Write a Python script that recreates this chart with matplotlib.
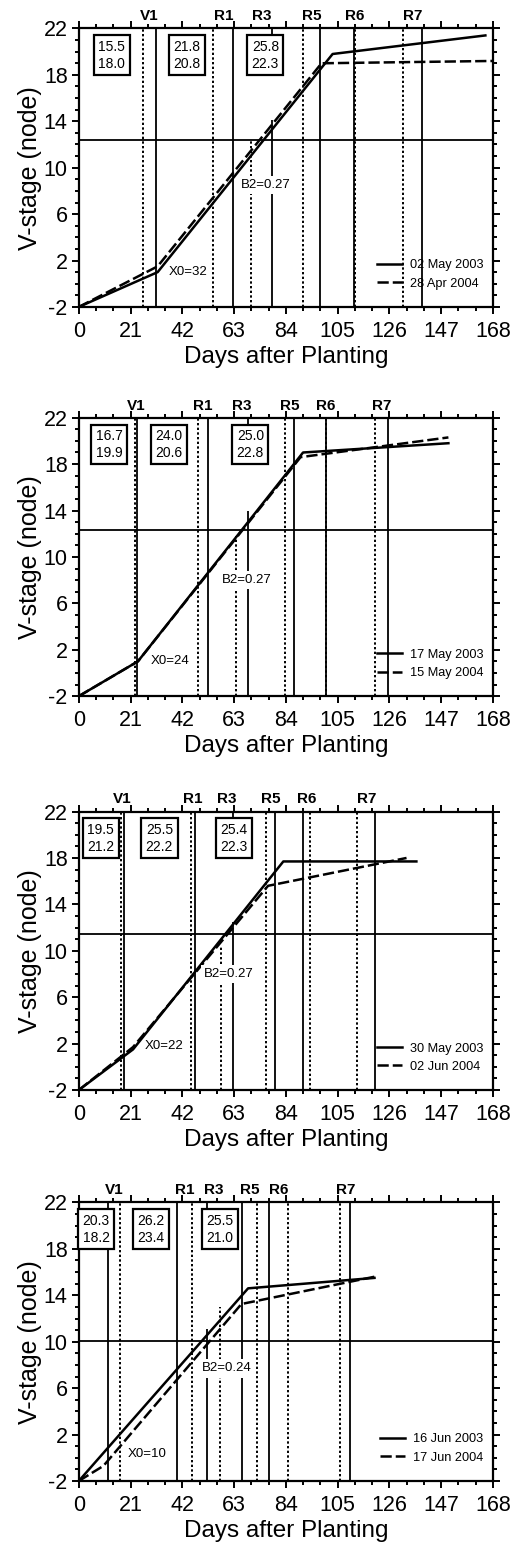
import numpy as np
import matplotlib.pyplot as plt

plt.rcParams['font.family'] = ['Liberation Sans', 'DejaVu Sans']
plt.rcParams['axes.unicode_minus'] = False

stages = ['V1', 'R1', 'R3', 'R5', 'R6', 'R7']

# panel 1
p1_solid_x = [0, 32, 103, 165]
p1_solid_y = [-2, 1.0, 19.8, 21.4]
p1_dash_x = [0, 32, 98.5, 168]
p1_dash_y = [-2, 1.5, 19.0, 19.2]
p1_stage_2003 = [31.3, 62.7, 78.6, 98.0, 111.5, 139.4]
p1_stage_2004 = [26.0, 54.6, 69.7, 91.0, 112.1, 131.5]
p1_r3_top = [14.1, 12.5]
p1_hline = 12.4
p1_temps = ['15.5\n18.0', '21.8\n20.8', '25.8\n22.3']
p1_x0 = 'X0=32'
p1_b2 = 'B2=0.27'
p1_dates = ['02 May 2003', '28 Apr 2004']

# panel 2
p2_solid_x = [0, 24, 91, 150]
p2_solid_y = [-2, 1.0, 19.0, 19.8]
p2_dash_x = [0, 24, 90, 150]
p2_dash_y = [-2, 1.0, 18.6, 20.3]
p2_stage_2003 = [23.8, 52.5, 68.5, 87.4, 100.5, 125.5]
p2_stage_2004 = [22.6, 48.2, 63.7, 83.6, 100.2, 120.1]
p2_r3_top = [14.0, 11.8]
p2_hline = 12.3
p2_temps = ['16.7\n19.9', '24.0\n20.6', '25.0\n22.8']
p2_x0 = 'X0=24'
p2_b2 = 'B2=0.27'
p2_dates = ['17 May 2003', '15 May 2004']

# panel 3
p3_solid_x = [0, 22, 83, 137]
p3_solid_y = [-2, 1.5, 17.7, 17.7]
p3_dash_x = [0, 22, 76.8, 133]
p3_dash_y = [-2, 1.7, 15.6, 18.0]
p3_stage_2003 = [18.4, 47.3, 62.7, 79.7, 90.8, 120.3]
p3_stage_2004 = [17.0, 45.5, 57.7, 75.8, 94.0, 113.0]
p3_r3_top = [12.5, 10.4]
p3_hline = 11.45
p3_temps = ['19.5\n21.2', '25.5\n22.2', '25.4\n22.3']
p3_x0 = 'X0=22'
p3_b2 = 'B2=0.27'
p3_dates = ['30 May 2003', '02 Jun 2004']

# panel 4
p4_solid_x = [0, 68.7, 120]
p4_solid_y = [-2, 14.6, 15.5]
p4_dash_x = [0, 10, 66, 120]
p4_dash_y = [-2, -0.7, 13.25, 15.6]
p4_stage_2003 = [12.0, 40.0, 52.1, 66.4, 77.2, 110.2]
p4_stage_2004 = [16.9, 46.0, 57.5, 72.4, 85.0, 106.2]
p4_r3_top = [11.1, 13.0]
p4_hline = 10.05
p4_temps = ['20.3\n18.2', '26.2\n23.4', '25.5\n21.0']
p4_x0 = 'X0=10'
p4_b2 = 'B2=0.24'
p4_dates = ['16 Jun 2003', '17 Jun 2004']

panels = [
    (p1_solid_x, p1_solid_y, p1_dash_x, p1_dash_y, p1_stage_2003, p1_stage_2004,
     p1_r3_top, p1_hline, p1_temps, p1_x0, p1_b2, p1_dates),
    (p2_solid_x, p2_solid_y, p2_dash_x, p2_dash_y, p2_stage_2003, p2_stage_2004,
     p2_r3_top, p2_hline, p2_temps, p2_x0, p2_b2, p2_dates),
    (p3_solid_x, p3_solid_y, p3_dash_x, p3_dash_y, p3_stage_2003, p3_stage_2004,
     p3_r3_top, p3_hline, p3_temps, p3_x0, p3_b2, p3_dates),
    (p4_solid_x, p4_solid_y, p4_dash_x, p4_dash_y, p4_stage_2003, p4_stage_2004,
     p4_r3_top, p4_hline, p4_temps, p4_x0, p4_b2, p4_dates),
]

# text placement (days, node) per panel
box_x = [[13.4, 44.0, 75.7], [12.4, 36.6, 69.6], [8.9, 32.7, 63.0], [7.0, 29.3, 57.1]]
x0_pos = [(44.4, 1.0), (36.9, 1.0), (34.4, 1.8), (27.9, 0.3)]
b2_pos = [(75.8, 8.5), (68.0, 8.0), (60.9, 8.0), (59.9, 7.7)]
bottoms = [0.8016, 0.550, 0.2954, 0.0427]

fig = plt.figure(figsize=(5.22, 15.47), dpi=100)

for i, (sx, sy, dx, dy, st3, st4, r3top, hl, temps, x0, b2, dates) in enumerate(panels):
    ax = fig.add_axes([0.151, bottoms[i], 0.793, 0.180])
    ax.set_xlim(0, 168)
    ax.set_ylim(-2, 22)

    ax.plot(sx, sy, color='black', lw=1.8, label=dates[0], zorder=4)
    ax.plot(dx, dy, color='black', lw=1.8, dashes=(4.5, 1.6), label=dates[1], zorder=4)

    for j in range(len(stages)):
        if j == 2:
            ax.vlines(st3[j], -2, r3top[0], color='black', lw=1.3, zorder=2)
            ax.vlines(st3[j], 19, 22, color='black', lw=1.3, zorder=2)
            ax.vlines(st4[j], -2, r3top[1], color='black', lw=1.4,
                      linestyles=(0, (1.2, 1.2)), zorder=2)
        else:
            ax.axvline(st3[j], color='black', lw=1.3, zorder=2)
            ax.axvline(st4[j], color='black', lw=1.4, linestyle=(0, (1.2, 1.2)), zorder=2)
        ax.text((st3[j] + st4[j]) / 2, 23.05, stages[j], ha='center', va='center',
                fontsize=11, fontweight='bold', clip_on=False)

    ax.axhline(hl, color='black', lw=1.3, zorder=2)

    for k, t in enumerate(temps):
        ax.text(box_x[i][k], 19.7, t, ha='center', va='center', fontsize=10,
                linespacing=1.25, zorder=6,
                bbox=dict(boxstyle='square,pad=0.32', fc='white', ec='black', lw=1.6))

    ax.text(x0_pos[i][0], x0_pos[i][1], x0, ha='center', va='center', fontsize=9.5,
            zorder=5, bbox=dict(boxstyle='square,pad=0.1', fc='white', ec='none'))
    ax.text(b2_pos[i][0], b2_pos[i][1], b2, ha='center', va='center', fontsize=9.5,
            zorder=5, bbox=dict(boxstyle='square,pad=0.25', fc='white', ec='none'))

    ax.legend(loc='lower right', bbox_to_anchor=(1.005, 0.02), frameon=False,
              fontsize=9.2, handlelength=2.0, handletextpad=0.6, labelspacing=0.5)

    ax.set_xticks(np.arange(0, 169, 21))
    ax.set_xticks(np.arange(0, 169, 7), minor=True)
    ax.set_yticks(np.arange(-2, 23, 4))
    ax.set_yticks(np.arange(-2, 23, 1), minor=True)
    ax.tick_params(which='both', direction='out', top=True, right=True,
                   width=1.4, labelsize=15.5, pad=3)
    ax.tick_params(axis='x', which='major', pad=5)
    ax.tick_params(which='major', length=5)
    ax.tick_params(which='minor', length=3)
    for sp in ax.spines.values():
        sp.set_linewidth(1.6)

    ax.set_xlabel('Days after Planting', fontsize=17.5, labelpad=3)
    ax.set_ylabel('V-stage (node)', fontsize=18, labelpad=1)

fig.savefig('out.png', dpi=100)
